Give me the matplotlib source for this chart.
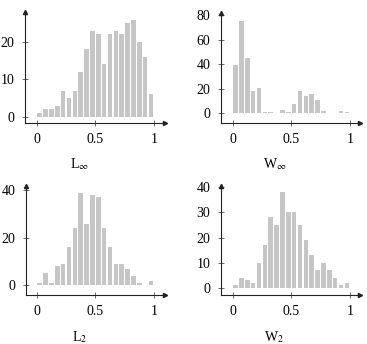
import matplotlib
matplotlib.use("Agg")
import matplotlib.pyplot as plt
import numpy as np

plt.rcParams['font.family'] = ['Liberation Serif', 'DejaVu Serif']
plt.rcParams['mathtext.fontset'] = 'stix'

bin_edges = np.linspace(0, 1, 21)
l_inf = [1, 2, 2, 3, 7, 5, 7, 12, 18, 23, 22, 14, 22, 23, 22, 25, 26, 20, 16, 6]
w_inf = [39, 75, 45, 18, 21, 1, 1, 0, 3, 1, 8, 18, 14, 16, 11, 2, 0, 0, 2, 1]
l_2 = [1, 5, 1, 8, 9, 16, 24, 39, 26, 38, 37, 24, 16, 9, 9, 7, 4, 1, 0, 2]
w_2 = [1, 4, 3, 2, 10, 17, 28, 25, 38, 30, 30, 25, 19, 13, 7, 10, 7, 4, 1, 2]

x_ticks = [0, 0.5, 1]
x_ticklabels = ['0', '0.5', '1']

W, H = 367, 344
fig = plt.figure(figsize=(W / 100, H / 100), dpi=100)

panels = [
    # data, label, (left, right, top, bottom) px, xlim, ylim, yticks, label pos
    (l_inf, r'L$_{\infty}$', (25, 165, 11.7, 122.7), (-0.0997, 1.094), (-1.6, 28.1), [0, 10, 20], (80, 164)),
    (w_inf, r'W$_{\infty}$', (220.7, 359.7, 13.3, 122.7), (-0.1026, 1.085), (-7.6, 81.4), [0, 20, 40, 60, 80], (275, 164)),
    (l_2, r'L$_{2}$', (25.7, 165, 186, 294.7), (-0.094, 1.094), (-3.96, 41.8), [0, 20, 40], (80, 337)),
    (w_2, r'W$_{2}$', (220.7, 359.7, 186, 294.7), (-0.1026, 1.085), (-2.65, 40.4), [0, 10, 20, 30, 40], (274, 337)),
]

centers = (bin_edges[:-1] + bin_edges[1:]) / 2
width = bin_edges[1] - bin_edges[0]

for data, label, (l, r, t, b), xl, yl, yt, (lx, ly) in panels:
    ax = fig.add_axes([l / W, 1 - b / H, (r - l) / W, (b - t) / H])
    ax.bar(centers, data, width=width * 0.78, color='#c6c6c6', edgecolor='none')
    ax.set_xlim(*xl)
    ax.set_ylim(*yl)
    ax.set_xticks(x_ticks)
    ax.set_xticklabels(x_ticklabels)
    ax.set_yticks(yt)
    for s in ['top', 'right']:
        ax.spines[s].set_visible(False)
    for s in ['left', 'bottom']:
        ax.spines[s].set_linewidth(0.8)
        ax.spines[s].set_color('#222222')
    ax.tick_params(direction='inout', length=5, width=0.6, color='#555555',
                   labelsize=10, pad=5)
    ax.plot(1, 0, '>', transform=ax.transAxes, clip_on=False, color='#222222', ms=3)
    ax.plot(0, 1, '^', transform=ax.transAxes, clip_on=False, color='#222222', ms=3)
    fig.text(lx / W, 1 - ly / H, label, ha='center', va='center', fontsize=10)

fig.savefig('out.png', dpi=100)
